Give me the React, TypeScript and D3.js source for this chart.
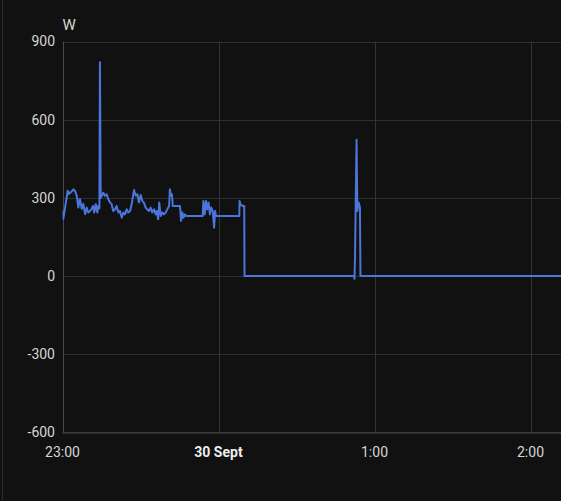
import React from "react";
import * as d3 from "d3";

// minutes after 23:00 (29 Sept) and power in W
const minutes = [
  0, 0.3, 2.0, 2.5, 2.9, 3.5, 4.2, 4.8, 5.5, 6.1, 6.7, 7.4, 8.0, 8.7, 9.3, 9.9, 10.6, 11.2, 11.8, 12.2,
  12.8, 13.4, 13.8, 14.2, 14.4, 14.7, 15.1, 15.7, 16.3, 17.0, 17.6, 18.3, 18.9, 19.5, 20.2, 20.8, 21.5,
  22.1, 22.8, 23.4, 24.0, 24.7, 25.3, 26.0, 26.6, 27.5, 28.2, 28.8, 29.4, 30.1, 30.7, 31.3, 32.0, 32.6,
  33.3, 33.9, 34.5, 35.2, 35.8, 36.2, 36.8, 37.2, 37.8, 38.4, 39.0, 39.7, 40.3, 41.0, 41.3, 41.7, 42.1,
  42.4, 45.2, 45.6, 46.1, 46.5, 47.1, 47.5, 53.9, 54.2, 54.7, 55.2, 55.7, 56.2, 56.7, 57.2, 57.8, 58.3,
  58.7, 59.0, 68.0, 68.1, 68.5, 69.5, 69.9, 70.0, 112.1, 112.3, 112.5, 113.1, 113.4, 113.9, 114.4, 114.6,
  192,
];
const watts = [
  250, 219, 327, 315, 320, 324, 333, 327, 308, 263, 296, 258, 277, 238, 263, 244, 250, 258, 269, 244,
  276, 244, 269, 260, 820, 300, 308, 320, 308, 314, 295, 282, 276, 250, 256, 269, 244,
  250, 224, 244, 237, 256, 244, 250, 276, 330, 308, 314, 282, 311, 288, 282, 263, 256,
  250, 263, 244, 256, 237, 250, 218, 282, 231, 244, 237, 244, 256, 269, 333, 308, 314,
  269, 269, 212, 244, 224, 237, 231, 231, 288, 237, 288, 256, 282, 237, 263, 250, 186,
  250, 231, 231, 288, 273, 269, 269, 0, 0, -10, 70, 523, 250, 282, 263, 0,
  0,
];
const yTicks = [900, 600, 300, 0, -300, -600];
const xTickLabels = ["23:00", "30 Sept", "1:00", "2:00"];
const unit = "W";

const start = new Date(2023, 8, 29, 23, 0, 0);
const end = new Date(2023, 8, 30, 2, 12, 0);
const tickDates = [0, 1, 2, 3].map((h) => new Date(start.getTime() + h * 3600000));

export default function App() {
  const W = 561;
  const H = 501;
  const left = 62.5;
  const top = 41.5;
  const bottom = 432.5;
  const x = d3.scaleTime().domain([start, end]).range([left, left + 156 * 3.2]);
  const y = d3.scaleLinear().domain([-600, 900]).range([bottom, top]);
  const data = minutes.map((m, i) => ({ t: new Date(start.getTime() + m * 60000), v: watts[i] }));
  const line = d3
    .line<{ t: Date; v: number }>()
    .x((d) => x(d.t))
    .y((d) => y(d.v));
  const font = "Roboto, 'Noto Sans', sans-serif";
  return (
    <svg
      width={W}
      height={H}
      style={{ position: "absolute", left: 0, top: 0, background: "#111111", display: "block" }}
    >
      <rect x={0} y={0} width={W} height={H} fill="#111111" />
      <line x1={2.5} x2={2.5} y1={0} y2={H} stroke="#2a2a2a" strokeWidth={1} />
      <defs>
        <clipPath id="plot">
          <rect x={left} y={0} width={W - left} height={H} />
        </clipPath>
      </defs>
      {yTicks.map((t) => (
        <line key={"h" + t} x1={left} x2={W} y1={Math.round(y(t)) + 0.5} y2={Math.round(y(t)) + 0.5} stroke="#2e2e2e" />
      ))}
      {tickDates.map((d, i) => (
        <line
          key={"v" + i}
          x1={Math.round(x(d)) + 0.5}
          x2={Math.round(x(d)) + 0.5}
          y1={top}
          y2={bottom}
          stroke={i === 0 ? "#4a4a4a" : "#333333"}
        />
      ))}
      <line x1={left} x2={W} y1={bottom} y2={bottom} stroke="#3a3a3a" />
      <path
        d={line(data) || ""}
        fill="none"
        stroke="#4a76dc"
        strokeWidth={2}
        strokeLinejoin="round"
        clipPath="url(#plot)"
      />
      {yTicks.map((t) => (
        <text
          key={"yl" + t}
          x={55}
          y={y(t)}
          dy="0.35em"
          textAnchor="end"
          fill="#d6d6d6"
          fontSize={14}
          fontFamily={font}
        >
          {t}
        </text>
      ))}
      {tickDates.map((d, i) => (
        <text
          key={"xl" + i}
          x={x(d)}
          y={452.5}
          dy="0.35em"
          textAnchor="middle"
          fill={i === 1 ? "#eeeeee" : "#d6d6d6"}
          fontWeight={i === 1 ? "bold" : "normal"}
          fontSize={14}
          fontFamily={font}
        >
          {xTickLabels[i]}
        </text>
      ))}
      <text x={62.5} y={29.5} fill="#d6d6d6" fontSize={15} fontFamily={font}>
        {unit}
      </text>
    </svg>
  );
}
